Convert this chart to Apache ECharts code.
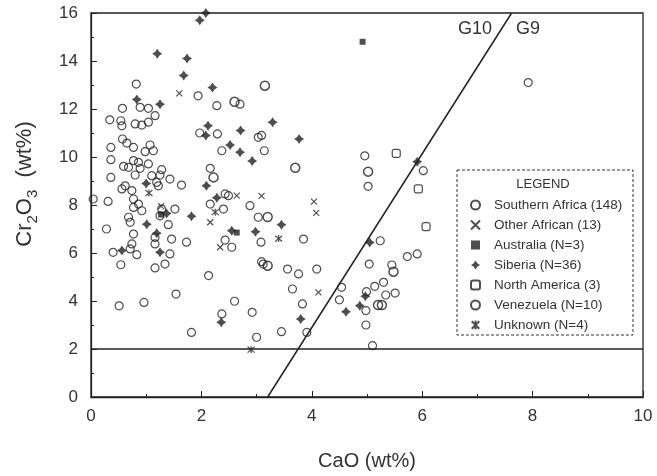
<!DOCTYPE html>
<html><head><meta charset="utf-8">
<script src="https://cdn.jsdelivr.net/npm/echarts@6/dist/echarts.min.js"></script>
<style>html,body{margin:0;padding:0;background:#fff}#c{width:657px;height:476px}</style>
</head><body><div id="c"></div>
<script>
// ---- data (CaO wt%, Cr2O3 wt%) ----
const southernAfrica = [
[0.82,13.04],[0.57,12.03],[0.89,12.07],[1.04,12.03],[1.16,11.72],[0.34,11.55],[0.54,11.51],[0.56,11.3],[0.80,11.38],[0.92,11.33],[1.04,11.45],[0.57,10.75],[0.65,10.58],[0.77,10.40],[0.36,10.40],[1.07,10.50],[1.13,10.26],[0.98,10.22],[0.36,9.89],[0.77,9.85],[0.86,9.78],[0.59,9.61],[0.68,9.57],[0.89,9.53],[1.04,9.71],[1.28,9.47],[0.36,9.15],[0.80,9.25],[1.10,9.22],[1.43,9.08],[1.64,8.83],[1.19,8.94],[0.62,8.80],[1.25,9.25],
[1.94,12.55],[2.28,12.14],[2.70,12.20],[1.97,11.0],[2.29,10.96],[3.03,10.82],[2.37,10.26],[3.14,10.26],[2.16,9.53],[2.49,8.39],[3.09,10.9],
[0.56,8.67],[0.74,8.60],[1.22,8.80],[0.04,8.25],[0.31,8.15],[0.77,8.25],[0.77,7.90],[0.92,7.76],[0.86,8.04],[1.28,7.83],[1.52,7.83],[1.25,7.55],[0.68,7.49],[0.71,7.28],[1.40,7.18],[0.28,7.00],[0.77,6.79],[1.16,6.65],[1.46,6.58],[1.73,6.45],[0.74,6.38],[1.16,6.38],[0.71,6.17],[0.40,6.03],[0.83,5.93],[1.43,5.96],[0.54,5.51],[1.16,5.38],[1.34,5.54],[1.54,4.29],[0.51,3.80],[0.96,3.94],[1.82,2.69],
[2.43,8.46],[2.88,7.97],[2.16,8.04],[2.40,7.83],[3.03,7.49],[2.55,6.24],[2.43,6.54],[3.08,6.45],[3.12,5.54],[2.13,5.06],[2.60,3.99],[2.92,3.53],[2.37,3.46],[3.0,2.49],[3.09,5.64],
[3.85,6.58],[5.24,6.51],[5.04,5.54],[5.45,5.50],[5.73,5.85],[5.91,5.96],[5.30,4.78],[5.14,4.61],[4.99,4.39],[5.34,4.25],[5.51,4.33],[4.98,3.60],[4.98,3.00],[5.10,2.14],[4.54,4.57],[4.50,4.05],[3.91,2.69],[3.45,2.72],[3.83,3.88],[3.65,4.50],[3.56,5.33],[3.76,5.13],[4.09,5.33],
[4.96,10.05],[5.02,8.78],[6.02,9.43],[7.92,13.1]
];
const otherAfrican = [[1.60,12.65],[2.64,8.39],[3.09,8.38],[2.16,7.28],[4.04,8.14],[4.08,7.67],[4.12,4.36],[2.34,6.24],[1.27,7.95]];
const australia = [[4.92,14.8],[2.64,6.85],[1.27,7.6]];
const siberia = [
[2.08,16.0],[1.97,15.7],[1.2,14.3],[1.74,14.1],[1.68,13.4],[2.2,12.9],[0.83,12.4],[1.25,12.2],[2.12,11.3],[2.08,10.9],[2.71,11.1],[2.52,10.5],[2.70,10.2],[2.92,9.83],[3.29,11.45],[3.77,10.75],[2.09,8.8],[2.28,8.3],[5.91,9.8],[2.55,6.93],[2.98,6.89],[3.45,7.18],[2.36,3.11],[3.80,3.25],[5.05,6.44],[4.62,3.55],[4.87,3.8],[1.82,7.53],[1.37,7.65],[1.01,7.2],[1.19,6.82],[1.25,6.03],[0.56,6.1],[1.0,8.9],[4.97,4.2]
];
const northAmerica = [[5.53,10.15],[5.93,8.67],[6.07,7.1]];
const venezuela = [[3.15,12.97],[3.70,9.55],[5.02,9.39],[2.22,9.15],[5.20,3.83],[5.27,3.83],[3.20,5.47],[5.48,5.22],[3.20,7.5],[2.60,12.3]];
const unknown = [[2.9,1.97],[1.05,8.5],[2.25,7.7],[3.4,6.6]];
const seriesNames = ['Southern Africa (148)','Other African (13)','Australia (N=3)','Siberia (N=36)','North America (3)','Venezuela (N=10)','Unknown (N=4)'];
const g10g9Line = [[3.2,0],[7.62,16]];
const cr2Line = [[0,2],[10,2]];
const xTicks = [0,2,4,6,8,10];
const yTicks = [0,2,4,6,8,10,12,14,16];

const INK = '#222';
const FONT = 'Liberation Sans, Arial, sans-serif';
const pathX = 'path://M0,0L10,10M0,10L10,0';
const pathStar = 'path://M5,0L7,3L10,5L7,7L5,10L3,7L0,5L3,3Z';
const pathAst = 'path://M0,0L10,10M0,10L10,0M5,-1L5,11';

const open = {color:'transparent', borderColor:INK, borderWidth:1.2};
function sc(name, data, symbol, size, style){
  return {type:'scatter', name, data, symbol, symbolSize:size, itemStyle:style, z:3};
}
const chart = echarts.init(document.getElementById('c'));
chart.setOption({
  animation:false,
  backgroundColor:'#fff',
  grid:{left:91,right:14,top:13,bottom:78,show:true,borderColor:INK,borderWidth:1.3,backgroundColor:'transparent'},
  xAxis:{type:'value',min:0,max:10,interval:2,
    name:'CaO (wt%)',nameLocation:'middle',nameGap:54,
    nameTextStyle:{fontFamily:FONT,fontSize:20,color:'#333'},
    axisLine:{lineStyle:{color:INK,width:1.3}},
    axisTick:{inside:true,length:6,lineStyle:{color:INK}},
    minorTick:{show:true,splitNumber:2,length:3,lineStyle:{color:INK}},
    splitLine:{show:false},
    axisLabel:{margin:11,fontFamily:FONT,fontSize:17,color:'#333',
      formatter:v=>xTicks.includes(v)?String(v):''}},
  yAxis:{type:'value',min:0,max:16,interval:2,
    axisLine:{lineStyle:{color:INK,width:1.3}},
    axisTick:{inside:true,length:6,lineStyle:{color:INK}},
    minorTick:{show:true,splitNumber:2,length:3,lineStyle:{color:INK}},
    splitLine:{show:false},
    axisLabel:{margin:13,fontFamily:FONT,fontSize:17,color:'#333',
      formatter:v=>yTicks.includes(v)?String(v):''}},
  legend:{orient:'vertical',left:465,top:193,itemWidth:9,itemHeight:9,itemGap:6,
    data:seriesNames,textStyle:{fontFamily:FONT,fontSize:13.5,lineHeight:14,color:'#333',padding:[0,0,0,9]},
    selectedMode:false},
  graphic:[
    {type:'text',x:25,y:184,rotation:Math.PI/2,z:2,
      style:{text:'Cr{s|2}O{s|3}  (wt%)',fontFamily:FONT,fontSize:22,fill:'#333',align:'center',verticalAlign:'middle',
        rich:{s:{fontFamily:FONT,fontSize:15,fill:'#333',verticalAlign:'bottom',lineHeight:30}}}},
    {type:'rect',shape:{x:457,y:170,width:176,height:165},style:{fill:'#fff',stroke:'#333',lineWidth:1,lineDash:[3,2]},z:1},
    {type:'text',x:543,y:184,style:{text:'LEGEND',fontFamily:FONT,fontSize:13,fill:'#333',textAlign:'center',textVerticalAlign:'middle'},z:2},
    {type:'text',x:475,y:29,style:{text:'G10',fontFamily:FONT,fontSize:18,fill:'#333',textAlign:'center',textVerticalAlign:'middle'},z:2},
    {type:'text',x:528,y:29,style:{text:'G9',fontFamily:FONT,fontSize:18,fill:'#333',textAlign:'center',textVerticalAlign:'middle'},z:2}
  ],
  series:[
    {type:'line',data:g10g9Line,symbol:'none',silent:true,lineStyle:{color:INK,width:1.5},z:2},
    {type:'line',data:cr2Line,symbol:'none',silent:true,lineStyle:{color:INK,width:1.5},z:2},
    sc(seriesNames[0],southernAfrica,'circle',8,open),
    sc(seriesNames[1],otherAfrican,pathX,6,{color:'transparent',borderColor:INK,borderWidth:1.2}),
    sc(seriesNames[2],australia,'rect',6,{color:INK}),
    sc(seriesNames[3],siberia,pathStar,10,{color:INK}),
    sc(seriesNames[4],northAmerica,'roundRect',8,open),
    sc(seriesNames[5],venezuela,'circle',9,{color:'transparent',borderColor:INK,borderWidth:1.5}),
    sc(seriesNames[6],unknown,pathAst,7,{color:'transparent',borderColor:INK,borderWidth:1.2})
  ]
});
</script></body></html>
